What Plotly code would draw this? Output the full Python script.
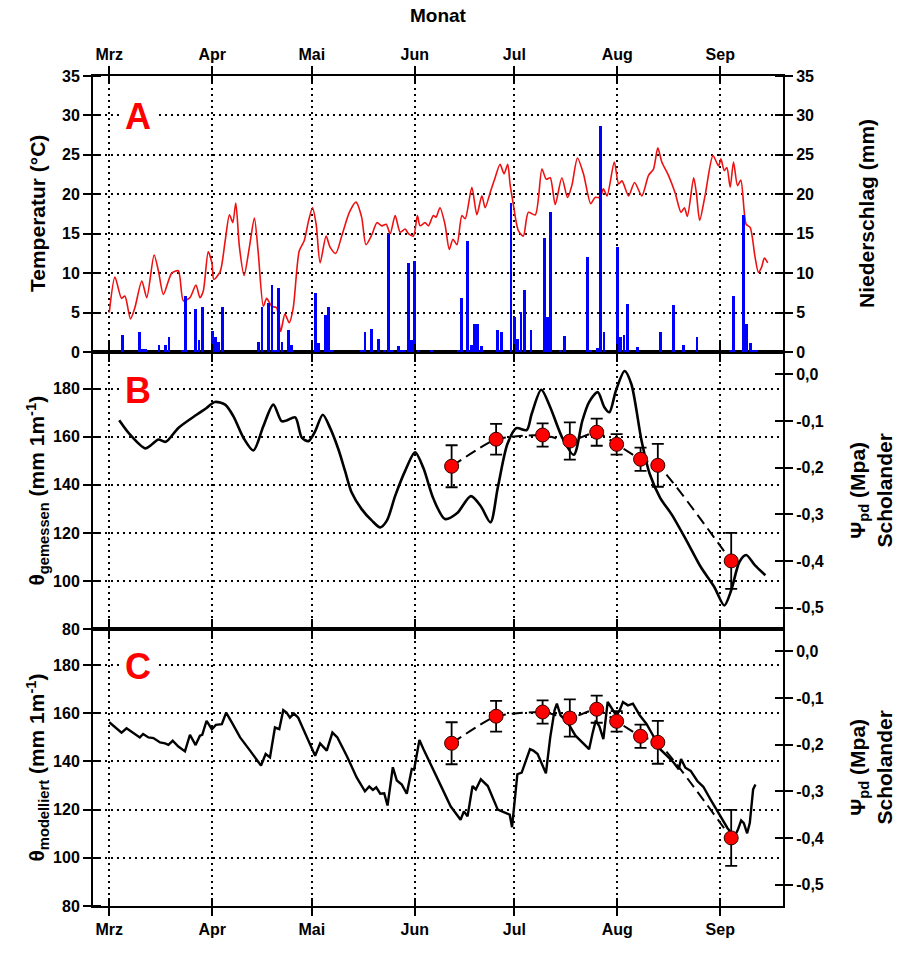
import numpy as np
import pandas as pd
import plotly.graph_objects as go

# ---------------- data ----------------
BASE = pd.Timestamp("2007-03-01")   # day 0 = 1 March

month_ticks = ["2007-03-01", "2007-04-01", "2007-05-01", "2007-06-01",
               "2007-07-01", "2007-08-01", "2007-09-01"]
month_labels = ["Mrz", "Apr", "Mai", "Jun", "Jul", "Aug", "Sep"]

# Panel A: air temperature (°C)
temp_day = [0.0, 1.7, 3.7, 4.7, 6.4, 7.7, 9.8, 11.3, 13.5, 14.8, 16.3, 18.8, 20.8, 22.3, 24.3,
            26.1, 27.3, 28.3, 29.8, 30.9, 31.5, 33.4, 34.9, 36.2, 37.2, 38.1, 39.2, 40.6, 42.2,
            43.7, 44.9, 46.4, 47.4, 48.9, 50.4, 51.6, 52.9, 54.2, 55.4, 57.2, 58.7, 60.0, 61.2,
            62.3, 63.5, 65.3, 66.5, 68.2, 70.0, 72.3, 74.3, 76.0, 77.3, 79.1, 80.6, 82.1, 83.4,
            84.6, 86.1, 87.6, 89.1, 90.1, 91.6, 92.8, 93.6, 95.1, 96.1, 97.6, 98.4, 99.6, 101.1,
            102.4, 103.5, 104.7, 106.2, 107.2, 109.2, 110.7, 112.2, 113.2, 114.7, 116.2, 117.7,
            118.9, 120.0, 120.7, 121.5, 123.2, 124.7, 126.2, 128.3, 130.3, 131.6, 132.8, 134.3,
            136.3, 138.0, 139.3, 141.0, 142.8, 145.0, 146.3, 147.8, 148.8, 149.9, 152.1, 153.4,
            154.4, 156.4, 158.2, 160.4, 162.4, 163.9, 165.2, 166.4, 168.4, 170.4, 172.2, 173.2,
            174.1, 176.0, 176.8, 177.8, 179.5, 181.8, 183.5, 184.2, 185.2, 186.0, 187.0, 188.0,
            189.2, 190.2, 191.8, 193.0, 194.5, 195.5, 196.4, 197.3, 198.3]
temp_val = [5.0, 9.5, 6.8, 7.1, 4.2, 5.6, 9.0, 6.9, 12.3, 10.3, 7.3, 10.0, 10.3, 6.5, 6.9,
            8.5, 6.9, 7.7, 12.7, 11.3, 9.2, 10.2, 14.1, 17.4, 16.4, 18.9, 13.3, 9.7, 13.3,
            17.0, 12.4, 5.8, 6.8, 5.8, 5.6, 2.6, 4.8, 3.7, 5.6, 12.8, 14.1, 16.6, 18.3,
            16.2, 11.3, 14.7, 13.3, 12.5, 14.7, 17.7, 19.0, 17.1, 13.6, 14.9, 16.4, 16.0, 16.2,
            15.0, 17.3, 15.2, 15.6, 15.0, 14.7, 17.3, 16.0, 16.4, 16.0, 17.3, 17.1, 18.3, 16.2,
            13.0, 14.3, 13.6, 17.3, 16.9, 20.9, 17.4, 19.8, 18.3, 20.2, 22.1, 23.8,
            22.6, 23.8, 21.3, 19.2, 15.4, 14.7, 17.7, 17.4, 23.2, 21.9, 22.1, 18.7,
            22.1, 19.6, 21.1, 24.6, 22.6, 18.8, 19.6, 19.6, 20.7, 19.8, 24.1, 21.3,
            21.7, 19.8, 21.5, 19.8, 22.4, 23.2, 25.9, 24.1, 22.4, 20.2, 17.7, 18.3,
            17.2, 22.1, 20.2, 16.7, 20.0, 24.9, 23.6, 24.5, 23.0, 23.4, 20.9, 24.1,
            21.1, 21.8, 16.2, 15.8, 12.0, 10.1, 10.7, 11.9, 11.3]

# Panel A: daily precipitation (mm)
rain_day = [4, 9, 10, 11, 15, 17, 18, 22, 23, 26, 27, 28, 31, 32, 33, 34,
            45, 46, 48, 49, 50, 51, 52, 54, 55, 62, 63, 65, 66, 67,
            76, 77, 79, 81, 83, 84, 85, 87, 88, 89, 90, 91, 92, 93, 97,
            105, 106, 108, 109, 110, 111, 112, 117, 118, 121, 122, 123, 124, 125, 127,
            131, 132, 133, 136, 137, 144, 145, 147, 148, 149, 153, 154, 155, 156, 159,
            166, 170, 173, 177, 187, 188, 191, 192, 193, 194, 195]
rain_val = [2.2, 2.5, 0.4, 0.4, 0.9, 0.9, 1.9, 0.2, 7.1, 5.5, 1.5, 5.7, 2.7, 1.9, 1.3, 5.7,
            1.3, 5.7, 6.2, 8.5, 0.2, 8.1, 1.3, 2.8, 0.9, 7.5, 1.1, 4.7, 5.7, 0.2,
            0.3, 2.5, 2.9, 1.7, 0.2, 15.0, 0.2, 0.7, 0.2, 0.2, 11.3, 1.5, 11.6, 0.2, 0.2,
            0.2, 6.8, 14.1, 0.9, 3.6, 3.6, 0.7, 2.8, 2.6, 18.9, 4.4, 1.6, 5.1, 7.9, 2.8,
            14.5, 4.4, 17.7, 0.2, 2.0, 12.1, 0.2, 0.5, 28.7, 2.6, 13.3, 1.9, 2.2, 6.1, 0.6,
            2.6, 5.9, 0.9, 1.9, 0.3, 7.1, 17.4, 3.6, 1.1, 0.3, 0.2]

# Panel B: measured soil water content (mm 1m-1)
meas_day = [3.0, 6.2, 10.8, 12.8, 14.8, 17.0, 20.8, 26.3, 29.3, 31.8, 34.9, 37.4, 40.4, 43.4,
            46.4, 49.4, 51.9, 53.4, 56.0, 58.0, 60.0, 62.0, 64.3, 66.5, 69.0, 71.0, 73.0, 76.0,
            79.1, 81.6, 83.6, 86.1, 89.1, 92.1, 94.6, 97.6, 101.1, 104.8, 108.9, 111.9, 114.8,
            117.0, 119.9, 122.6, 125.7, 127.2, 130.1, 132.8, 136.4, 139.9, 142.5, 144.5, 147.1,
            149.1, 150.6, 152.6, 155.2, 157.2, 160.3, 162.8, 165.9, 169.4, 174.0, 178.1, 182.2,
            185.2, 187.3, 189.8, 191.8, 194.4, 197.6]
meas_val = [166.9, 161.0, 155.2, 156.8, 158.9, 157.9, 163.7, 169.2, 172.0, 174.5, 173.4, 168.5,
            159.6, 154.3, 164.4, 173.4, 166.5, 166.8, 168.1, 159.6, 158.2, 162.3, 169.2, 163.7,
            154.8, 145.8, 136.8, 129.9, 125.1, 122.3, 125.1, 135.4, 145.8, 153.6, 147.0, 134.3,
            125.8, 128.3, 135.3, 131.1, 124.4, 138.8, 157.0, 163.6, 162.8, 169.5, 179.6, 172.3,
            159.7, 152.5, 166.8, 174.4, 178.6, 172.3, 170.2, 179.3, 187.4, 182.1, 158.4, 144.4,
            134.6, 127.6, 116.4, 105.9, 97.5, 89.8, 96.1, 108.0, 110.8, 106.6, 102.4]

# Panel C: modelled soil water content (mm 1m-1)
mod_day = [0.0, 1.7, 3.7, 5.2, 7.2, 9.2, 10.2, 11.8, 13.3, 15.3, 16.8, 17.8, 19.1, 20.8, 22.8,
           24.3, 26.0, 27.3, 28.0, 29.3, 30.9, 32.1, 33.9, 35.2, 36.9, 39.4, 42.4, 45.7, 47.1,
           48.4, 49.9, 51.2, 52.4, 53.4, 54.4, 55.6, 56.9, 59.5, 62.0, 63.5, 65.5, 67.2, 68.7,
           71.5, 74.5, 77.0, 78.3, 79.4, 80.4, 81.6, 82.8, 83.8, 85.4, 86.6, 88.1, 89.6, 91.1,
           91.8, 92.4, 93.4, 94.6, 96.6, 99.6, 102.8, 105.8, 106.8, 107.9, 109.4, 110.4, 111.9,
           114.0, 117.0, 119.1, 120.6, 121.3, 122.9, 124.2, 126.7, 127.7, 129.0, 131.5, 132.8,
           134.1, 134.8, 135.9, 138.0, 140.4, 143.0, 144.5, 145.5, 146.5, 147.6, 148.8, 150.1,
           151.4, 152.7, 153.7, 154.7, 156.2, 157.7, 159.8, 161.8, 163.8, 165.9, 167.9, 170.0,
           171.5, 172.2, 173.5, 175.1, 177.1, 178.9, 181.1, 183.7, 186.2, 188.3, 189.3, 190.3,
           191.1, 192.1, 192.9, 193.9, 194.6]
mod_val = [156.3, 154.4, 152.0, 153.8, 152.0, 150.0, 151.4, 150.0, 149.7, 147.9, 147.5, 146.9,
           148.6, 146.2, 144.2, 151.1, 146.8, 150.7, 151.1, 156.9, 153.4, 155.2, 155.5, 160.3,
           156.2, 150.0, 144.5, 138.3, 143.1, 141.7, 154.1, 153.4, 161.3, 160.3, 158.2, 159.9,
           158.2, 150.0, 142.4, 147.5, 144.5, 152.0, 150.0, 142.4, 133.4, 127.6, 129.6, 128.2,
           129.3, 126.6, 126.8, 121.7, 137.6, 132.1, 130.4, 126.6, 136.9, 136.6, 141.7, 148.9,
           145.2, 139.6, 130.7, 121.4, 115.8, 119.3, 117.2, 129.8, 128.4, 132.6, 129.8, 120.0,
           118.6, 117.9, 112.7, 134.7, 135.4, 145.1, 144.5, 143.1, 135.1, 150.0, 161.2, 164.0,
           159.1, 156.3, 150.7, 147.2, 145.1, 151.4, 157.0, 154.6, 149.3, 164.7, 161.9, 159.1,
           161.2, 164.7, 163.3, 164.0, 159.1, 155.6, 150.7, 145.1, 142.4, 139.5, 136.8, 141.0,
           137.4, 136.1, 131.9, 129.5, 124.2, 117.9, 112.3, 108.8, 111.6, 115.5, 114.4, 110.2,
           114.4, 128.4, 130.4]

# Predawn water potential (Scholander), MPa
psi_day = [103.1, 116.5, 130.5, 138.7, 146.8, 152.8, 160.0, 165.2, 187.3]
psi_val = [-0.197, -0.139, -0.130, -0.143, -0.124, -0.150, -0.182, -0.195, -0.400]
psi_err = [0.045, 0.033, 0.025, 0.040, 0.029, 0.022, 0.025, 0.046, 0.060]

temp_ticks = [0, 5, 10, 15, 20, 25, 30, 35]
theta_ticks = [80, 100, 120, 140, 160, 180]
psi_ticks = [0.0, -0.1, -0.2, -0.3, -0.4, -0.5]
psi_ticktext = ["0,0", "-0,1", "-0,2", "-0,3", "-0,4", "-0,5"]


def to_date(days):
    return BASE + pd.to_timedelta(np.asarray(days, dtype=float), unit="D")


# ---------------- figure ----------------
W, H = 900, 954
ML, MR, MT, MB = 93, 117, 76, 48
PW, PH = W - ML - MR, H - MT - MB


def py(pix):  # pixel row -> paper y
    return (H - MB - pix) / PH


def px(pix):  # pixel column -> paper x
    return (pix - ML) / PW


dom_C = [0, py(629)]
dom_B = [py(629), py(352)]
dom_A = [py(352), 1]

x_range = [BASE + pd.Timedelta(days=-4.9), BASE + pd.Timedelta(days=202.9)]

TICKFONT = dict(family="Liberation Sans, Arial, sans-serif", size=16, color="black", weight="bold")
TITLEFONT = dict(family="Liberation Sans Narrow, Arial Narrow, Liberation Sans, Arial", size=21,
                 color="black", weight="bold")
DOT = "2px,4px"

fig = go.Figure()

# Panel A
fig.add_trace(go.Scatter(x=to_date(temp_day), y=temp_val, mode="lines",
                         line=dict(color="#ee1111", width=1.6, shape="spline", smoothing=0.7),
                         xaxis="x3", yaxis="y5", showlegend=False))
fig.add_trace(go.Bar(x=to_date(rain_day), y=rain_val, width=0.85 * 86400000,
                     marker=dict(color="#0000ff", line=dict(width=0)),
                     xaxis="x3", yaxis="y6", showlegend=False))

# Panel B
fig.add_trace(go.Scatter(x=to_date(meas_day), y=meas_val, mode="lines",
                         line=dict(color="black", width=2.6, shape="spline", smoothing=0.8),
                         xaxis="x2", yaxis="y3", showlegend=False))
fig.add_trace(go.Scatter(x=to_date(psi_day), y=psi_val, mode="lines+markers",
                         line=dict(color="black", width=2, dash="11px,6px", shape="spline", smoothing=0.5),
                         marker=dict(color="#ff0000", size=14, line=dict(color="#330000", width=1)),
                         error_y=dict(type="data", array=psi_err, color="black", thickness=1.8, width=6),
                         xaxis="x2", yaxis="y4", showlegend=False))

# Panel C
fig.add_trace(go.Scatter(x=to_date(mod_day), y=mod_val, mode="lines",
                         line=dict(color="black", width=2.4),
                         xaxis="x", yaxis="y", showlegend=False))
fig.add_trace(go.Scatter(x=to_date(psi_day), y=psi_val, mode="lines+markers",
                         line=dict(color="black", width=2, dash="11px,6px", shape="spline", smoothing=0.5),
                         marker=dict(color="#ff0000", size=14, line=dict(color="#330000", width=1)),
                         error_y=dict(type="data", array=psi_err, color="black", thickness=1.8, width=6),
                         xaxis="x", yaxis="y2", showlegend=False))


def tick_common(vals, minor_vals):
    return dict(ticks="outside", ticklen=8, tickwidth=2, tickcolor="black",
                tickmode="array", tickvals=vals,
                minor=dict(ticks="inside", ticklen=8, tickwidth=2, tickcolor="black",
                           tickmode="array", tickvals=minor_vals, showgrid=False),
                showline=True, linecolor="black", linewidth=2, zeroline=False,
                tickfont=TICKFONT)


month_minor = [pd.Timestamp(m) + pd.Timedelta(minutes=2) for m in month_ticks]


def xaxis_def(anchor, side, labels):
    d = tick_common(month_ticks, month_minor)
    d.update(domain=[0, 1], anchor=anchor, side=side, range=x_range, type="date",
             ticktext=month_labels, showticklabels=labels, mirror="allticks",
             showgrid=True, gridcolor="black", gridwidth=1.5, griddash=DOT)
    return d


def yaxis_def(domain, rng, vals, anchor, side="left", grid=True, text=None, overlaying=None):
    d = tick_common(vals, [v + 1e-6 * (rng[1] - rng[0]) for v in vals])
    d.update(range=rng, anchor=anchor, side=side, mirror=False,
             showgrid=grid, gridcolor="black", gridwidth=1.5, griddash=DOT)
    if domain is not None:
        d["domain"] = domain
    if text is not None:
        d["ticktext"] = text
    if overlaying:
        d["overlaying"] = overlaying
    return d


psi_range = [-0.546, 0.048]

fig.update_layout(
    width=W, height=H,
    margin=dict(l=ML, r=MR, t=MT, b=MB, pad=0),
    paper_bgcolor="white", plot_bgcolor="white",
    bargap=0,
    xaxis=xaxis_def("y", "bottom", True),
    xaxis2=xaxis_def("y3", "bottom", False),
    xaxis3=xaxis_def("y5", "top", True),
    yaxis=yaxis_def(dom_C, [80, 195], theta_ticks, "x"),
    yaxis2=yaxis_def(None, psi_range, psi_ticks, "x", side="right", grid=False,
                     text=psi_ticktext, overlaying="y"),
    yaxis3=yaxis_def(dom_B, [80, 195.3], theta_ticks, "x2"),
    yaxis4=yaxis_def(None, psi_range, psi_ticks, "x2", side="right", grid=False,
                     text=psi_ticktext, overlaying="y3"),
    yaxis5=yaxis_def(dom_A, [0, 35], temp_ticks, "x3"),
    yaxis6=yaxis_def(None, [0, 35], temp_ticks, "x3", side="right", grid=False,
                     overlaying="y5"),
)

ann = []
# Panel letters
for letter, ypix in (("A", 116), ("B", 391), ("C", 666)):
    ann.append(dict(text=letter, x=px(138), y=py(ypix), xref="paper", yref="paper",
                    xanchor="center", yanchor="middle", showarrow=False, bgcolor="white",
                    borderpad=4,
                    font=dict(family="Liberation Sans, Arial", size=36, color="#ff0000", weight="bold")))

# Top title
ann.append(dict(text="Monat", x=0.5, y=py(16), xref="paper", yref="paper",
                xanchor="center", yanchor="middle", showarrow=False,
                font=dict(family="Liberation Sans, Arial", size=19, color="black", weight="bold")))

# Left axis titles
left_titles = [("Temperatur (°C)", dom_A),
               ("θ<sub>gemessen</sub> (mm 1m<sup>-1</sup>)", dom_B),
               ("θ<sub>modelliert</sub> (mm 1m<sup>-1</sup>)", dom_C)]
for txt, dom in left_titles:
    ann.append(dict(text=txt, x=px(37), y=(dom[0] + dom[1]) / 2, xref="paper", yref="paper",
                    xanchor="center", yanchor="middle", textangle=-90, showarrow=False,
                    font=TITLEFONT))

# Right axis titles
ann.append(dict(text="Niederschlag (mm)", x=px(866), y=(dom_A[0] + dom_A[1]) / 2,
                xref="paper", yref="paper", xanchor="center", yanchor="middle",
                textangle=-90, showarrow=False, font=TITLEFONT))
for dom in (dom_B, dom_C):
    ann.append(dict(text="Ψ<sub>pd</sub> (Mpa)<br>Scholander", x=px(870), y=(dom[0] + dom[1]) / 2,
                    xref="paper", yref="paper", xanchor="center", yanchor="middle",
                    textangle=-90, showarrow=False, font=TITLEFONT))

fig.update_layout(annotations=ann)

fig.write_html("out.html")
